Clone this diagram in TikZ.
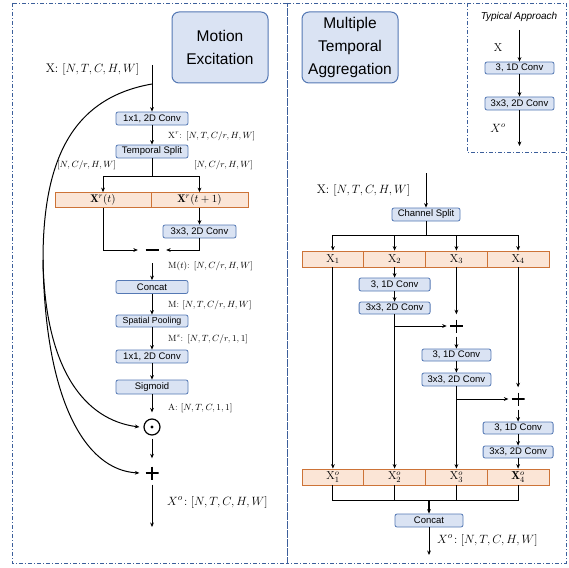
\documentclass[tikz,border=0pt]{standalone}
\usepackage{fontspec}
\setsansfont{Liberation Sans}
\usetikzlibrary{arrows.meta}
\definecolor{boxfill}{HTML}{DAE3F3}
\definecolor{boxline}{RGB}{84,120,180}
\definecolor{orfill}{HTML}{FBE5D6}
\definecolor{orline}{RGB}{205,115,55}
\definecolor{framec}{RGB}{60,95,155}
\begin{document}
\begin{tikzpicture}[x=1pt,y=-1pt,
 arr/.style={-{Stealth[length=4.5pt,width=3.8pt]}, line width=1pt},
 ln/.style={line width=1pt},
 box/.style={draw=boxline, fill=boxfill, rounded corners=2pt, line width=0.8pt, inner sep=0pt, minimum height=13pt, font=\sffamily\fontsize{9.5}{10}\selectfont},
 cell/.style={draw=orline, fill=orfill, line width=0.8pt, inner sep=0pt, minimum height=15pt, font=\fontsize{11}{11}\selectfont},
 rcell/.style={cell, minimum width=61.75pt, minimum height=16pt, font=\fontsize{11.5}{11.5}\selectfont},
 titlebox/.style={draw=boxline, fill=boxfill, rounded corners=7pt, line width=1pt, inner sep=0pt, align=center, minimum width=96pt, minimum height=71pt, font=\sffamily\fontsize{15.5}{23}\selectfont},
 dim/.style={inner sep=0pt, font=\fontsize{9}{10}\selectfont, anchor=west},
 bigdim/.style={inner sep=0pt, font=\fontsize{12.5}{14}\selectfont},
 framel/.style={draw=framec, line width=0.8pt, dash pattern=on 4pt off 2pt on 1pt off 2pt},
 plusn/.style={minimum size=13pt, inner sep=0pt, path picture={\draw[line width=1.2pt] (path picture bounding box.north) -- (path picture bounding box.south) (path picture bounding box.west) -- (path picture bounding box.east);}},
 minusn/.style={minimum width=28pt, minimum height=8pt, inner sep=0pt, path picture={\draw[line width=1.3pt] ([xshift=-6.5pt]path picture bounding box.center) -- ([xshift=6.5pt]path picture bounding box.center);}},
 odotn/.style={circle, draw, line width=1.2pt, minimum size=16pt, inner sep=0pt, path picture={\fill (path picture bounding box.center) circle (1.6pt);}},
 ]
\useasboundingbox (0,0) rectangle (569,567);
% frames
\draw[framel] (12,3) rectangle (287,563);
\draw[framel] (287,3) rectangle (566,563);
\draw[framel] (467,3) -- (467,152) -- (566,152);
% titles
\node[titlebox] (me) at (220,47.5) {Motion\\Excitation};
\node[titlebox] (mta) at (350,47.5) {Multiple\\Temporal\\Aggregation};

% ---------- left: motion excitation
\node[bigdim] (lxlab) at (92.5,70) {X: $[N,T,C,H,W]$};
\coordinate (lin) at (152,65);
\coordinate (lsp) at (152,84);
\node[box, minimum width=72pt] (c1) at (152,118.5) {1x1, 2D Conv};
\node[dim] (l1) at (168,136) {X$^r$: $[N,T,C/r,H,W]$};
\node[box, minimum width=72pt] (ts) at (152,151.5) {Temporal Split};
\node[dim, anchor=center] (l2) at (86.5,165) {$[N,C/r,H,W]$};
\node[dim, anchor=center] (l3) at (223.5,165) {$[N,C/r,H,W]$};
\coordinate (tsj) at (152,176);
\node[cell, minimum width=96pt] (xt) at (103,200) {$\mathbf{X}^r(t)$};
\node[cell, minimum width=97pt] (xt1) at (199.5,200) {$\mathbf{X}^r(t+1)$};
\node[box, minimum width=73pt] (c3) at (199.5,231.5) {3x3, 2D Conv};
\node[minusn] (mi) at (152,250) {};
\node[dim] (l4) at (168,266) {M$(t)$: $[N,C/r,H,W]$};
\node[box, minimum width=72pt] (cc) at (152,287) {Concat};
\node[dim] (l5) at (168,305) {M: $[N,T,C/r,H,W]$};
\node[box, minimum width=72pt, minimum height=12pt, font=\sffamily\fontsize{8.8}{9}\selectfont] (sp) at (152,321) {Spatial Pooling};
\node[dim] (l6) at (168,339) {M$^s$: $[N,T,C/r,1,1]$};
\node[box, minimum width=72pt] (c4) at (152,356.5) {1x1, 2D Conv};
\node[box, minimum width=72pt, minimum height=14pt] (sg) at (152,387) {Sigmoid};
\node[dim] (l7) at (168,408) {A: $[N,T,C,1,1]$};
\node[odotn] (od) at (152,427) {};
\node[plusn] (pl) at (152,473) {};
\coordinate (lout) at (152,527);
\node[bigdim, anchor=west] (l8) at (167,502) {$X^o\!: [N,T,C,H,W]$};
\coordinate (cm) at (43,260);

\draw[ln] (lin) -- (lsp);
\draw[arr] (lsp) -- (c1);
\draw[arr] (c1) -- (ts);
\draw[ln] (ts) -- (tsj);
\draw[arr] (tsj) -| (xt);
\draw[arr] (tsj) -| (xt1);
\draw[arr] (xt.south) |- (mi.west);
\draw[arr] (xt1) -- (c3);
\draw[arr] (c3.south) |- (mi.east);
\draw[arr] ([yshift=-9pt]mi.south) -- (cc);
\draw[arr] (cc) -- (sp);
\draw[arr] (sp) -- (c4);
\draw[arr] (c4) -- (sg);
\draw[arr] (sg) -- ([yshift=6pt]od.north);
\draw[arr] ([yshift=-3pt]od.south) -- ([yshift=8pt]pl.north);
\draw[arr] ([yshift=-5pt]pl.south) -- (lout);
\draw[ln] (lsp) .. controls (72,98) and (43,160) .. (cm);
\draw[arr] (cm) .. controls (45,370) and (85,420) .. ([xshift=-4pt]od.west);
\draw[arr] (cm) .. controls (45,400) and (85,470) .. ([xshift=-6pt]pl.west);

% ---------- right: multiple temporal aggregation
\node[bigdim] (rxlab) at (363.5,190) {X: $[N,T,C,H,W]$};
\coordinate (rin) at (426,173);
\node[box, minimum width=68pt] (cs) at (426,214.5) {Channel Split};
\coordinate (csj) at (426,235);
\node[rcell] (x1) at (332.9,259) {$\mathrm{X}_1$};
\node[rcell] (x2) at (394.6,259) {$\mathrm{X}_2$};
\node[rcell] (x3) at (456.4,259) {$\mathrm{X}_3$};
\node[rcell] (x4) at (518.1,259) {$\mathrm{X}_4$};
\node[box, minimum width=71pt] (a1) at (394.6,284.5) {3, 1D Conv};
\node[box, minimum width=71pt, minimum height=12pt] (b1) at (394.6,308) {3x3, 2D Conv};
\node[plusn] (p1) at (456.4,326) {};
\node[box, minimum width=69pt, minimum height=12pt] (a2) at (456.4,355) {3, 1D Conv};
\node[box, minimum width=69pt] (b2) at (456.4,379.5) {3x3, 2D Conv};
\node[plusn] (p2) at (518.1,399) {};
\node[box, minimum width=70pt, minimum height=12pt] (a3) at (518.1,428) {3, 1D Conv};
\node[box, minimum width=70pt, minimum height=12pt] (b3) at (518.1,452) {3x3, 2D Conv};
\node[rcell] (y1) at (332.9,477) {$\mathrm{X}^o_1$};
\node[rcell] (y2) at (394.6,477) {$\mathrm{X}^o_2$};
\node[rcell] (y3) at (456.4,477) {$\mathrm{X}^o_3$};
\node[rcell] (y4) at (518.1,477) {$\mathbf{X}^o_4$};
\coordinate (oj) at (429,500);
\node[box, minimum width=68pt] (rc) at (429,520.5) {Concat};
\coordinate (rout) at (429,555);
\node[bigdim, anchor=west] (r8) at (437,540) {$X^o\!: [N,T,C,H,W]$};

\draw[arr] (rin) -- (cs);
\draw[ln] (cs) -- (csj);
\draw[ln] (x1|-csj) -- (x4|-csj);
\foreach \n in {x1,x2,x3,x4} {\draw[arr] (\n|-csj) -- (\n);}
\draw[arr] (x2) -- (a1);
\draw[arr] (a1) -- (b1);
\draw[arr] (x3) -- ([yshift=5pt]p1.north);
\draw[arr] (b1.south|-p1) -- ([xshift=-3pt]p1.west);
\draw[arr] ([yshift=-4pt]p1.south) -- (a2);
\draw[arr] (a2) -- (b2);
\draw[arr] (x4) -- ([yshift=5pt]p2.north);
\draw[arr] (b2.south|-p2) -- ([xshift=-3pt]p2.west);
\draw[arr] ([yshift=-4pt]p2.south) -- (a3);
\draw[arr] (a3) -- (b3);
\draw[arr] (x1) -- (y1);
\draw[arr] (b1) -- (y2);
\draw[arr] (b2) -- (y3);
\draw[arr] (b3) -- (y4);
\draw[ln] (y1.south) -- (y1.south|-oj) -- (y4.south|-oj) -- (y4.south);
\draw[ln] (y2.south) -- (y2.south|-oj);
\draw[ln] (y3.south) -- (y3.south|-oj);
\draw[arr, line width=1.7pt] (oj) -- (rc);
\draw[arr] (rc) -- (rout);

% ---------- typical approach
\node[inner sep=0pt, font=\sffamily\itshape\fontsize{10}{11}\selectfont] (ta) at (519,17) {Typical Approach};
\coordinate (tin) at (519.5,30);
\node[box, minimum width=69pt, minimum height=12pt] (t1) at (519.5,68) {3, 1D Conv};
\node[box, minimum width=69pt, minimum height=13pt] (t2) at (519.5,103.5) {3x3, 2D Conv};
\coordinate (tout) at (519.5,146);
\node[inner sep=0pt, font=\fontsize{11.5}{12}\selectfont] (tx) at (498,48) {X};
\node[inner sep=0pt, font=\fontsize{11.5}{12}\selectfont] (txo) at (498,128) {$X^o$};
\draw[arr] (tin) -- (t1);
\draw[arr] (t1) -- (t2);
\draw[arr] (t2) -- (tout);
\end{tikzpicture}
\end{document}
